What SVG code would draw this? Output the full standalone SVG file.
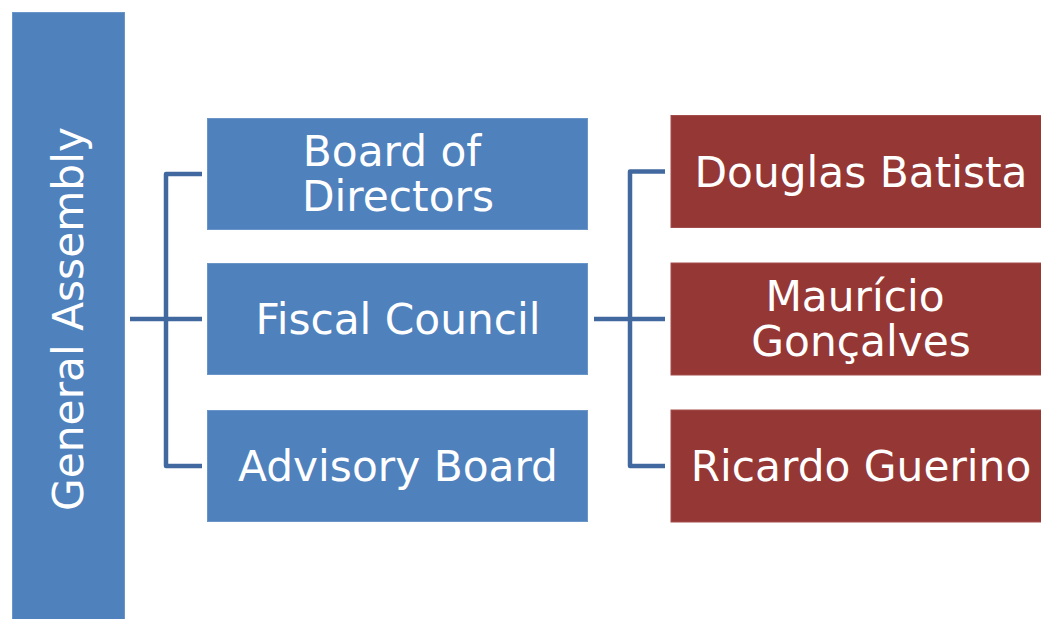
<svg xmlns="http://www.w3.org/2000/svg" width="1041" height="619" viewBox="0 0 1041 619">
<style>
.blue{fill:#4F81BD;stroke:#6A95C8;stroke-width:1}
.red{fill:#953735;stroke:#A34E4C;stroke-width:1}
.lbl{font-family:"DejaVu Sans",Verdana,sans-serif;font-size:42.3px;fill:#FFFFFF;text-anchor:middle}
.conn{fill:none;stroke:#41699F;stroke-width:4.5;stroke-linejoin:round}
</style>
<rect width="1041" height="619" fill="#FFFFFF"/>
<g id="general-assembly">
<rect class="blue" x="12.5" y="12.5" width="112" height="620"/>
<text class="lbl" x="68" y="333.5" transform="rotate(-90 68 319)">General Assembly</text>
</g>
<g id="connectors">
<path class="conn" d="M130 319H202M202 174H166V466H202"/>
<path class="conn" d="M594 319H665M665 171.5H630V466H665"/>
</g>
<g id="board-of-directors">
<rect class="blue" x="207.5" y="118.5" width="380" height="111"/>
<text class="lbl" x="392" y="166">Board of</text>
<text class="lbl" x="398" y="211">Directors</text>
</g>
<g id="fiscal-council">
<rect class="blue" x="207.5" y="263.5" width="380" height="111"/>
<text class="lbl" x="398" y="334">Fiscal Council</text>
</g>
<g id="advisory-board">
<rect class="blue" x="207.5" y="410.5" width="380" height="111"/>
<text class="lbl" x="398" y="481">Advisory Board</text>
</g>
<g id="douglas-batista">
<rect class="red" x="671" y="115.5" width="390" height="112"/>
<text class="lbl" x="861" y="186.5">Douglas Batista</text>
</g>
<g id="mauricio-goncalves">
<rect class="red" x="671" y="263" width="390" height="112"/>
<text class="lbl" x="855" y="311">Maurício</text>
<text class="lbl" x="861" y="356">Gonçalves</text>
</g>
<g id="ricardo-guerino">
<rect class="red" x="671" y="410" width="390" height="112"/>
<text class="lbl" x="861" y="481">Ricardo Guerino</text>
</g>
</svg>
